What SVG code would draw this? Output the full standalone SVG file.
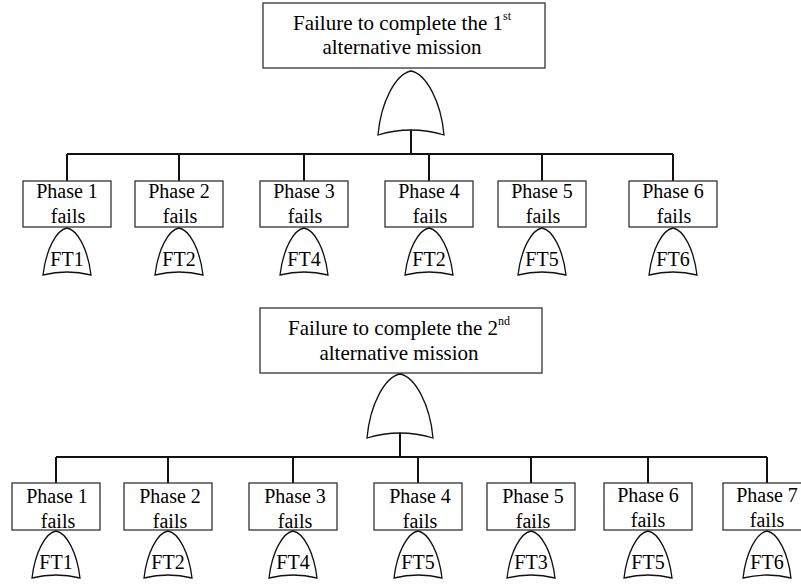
<svg xmlns="http://www.w3.org/2000/svg" xmlns:xlink="http://www.w3.org/1999/xlink" width="801" height="586" viewBox="0 0 801 586">
<style>
.box{fill:#fff;stroke:#333;stroke-width:1.3}
.gate{fill:#fff;stroke:#111;stroke-width:1.3}
.conn{fill:none;stroke:#111;stroke-width:2}
text{font-family:"Liberation Serif","Times New Roman",serif;fill:#000;text-anchor:middle}
.t{font-size:21px}
.p{font-size:20px}
.ft{font-size:20px}
.sup{font-size:12px}
</style>
<defs>
<path id="bg" class="gate" d="M-33,64 C-30,30 -15,3 0,0 C15,3 30,30 33,64 Q0,54 -33,64 Z"/>
<path id="sg" class="gate" d="M-24,47 C-21,22 -11,2 0,0 C11,2 21,22 24,47 Q0,41 -24,47 Z"/>
</defs>
<rect width="801" height="586" fill="#fff"/>
<g id="connectors">
<path class="conn" d="M411,130 V154 M67,154 H673 M67,154 V181 M179,154 V181 M304,154 V181 M429,154 V181 M542,154 V181 M673,154 V181"/>
<path class="conn" d="M400,433 V457 M56,457 H767 M56,457 V483 M168,457 V483 M293,457 V483 M418,457 V483 M531,457 V483 M648,457 V483 M767,457 V483"/>
</g>
<g id="top1">
<rect class="box" x="263" y="3" width="282" height="65"/>
<text class="t" x="402" y="30">Failure to complete the 1<tspan class="sup" dy="-10">st</tspan></text>
<text class="t" x="402" y="54">alternative mission</text>
<use xlink:href="#bg" x="411" y="71"/>
</g>
<g id="r1p1"><rect class="box" x="23" y="181" width="88" height="46"/><text class="p" x="67" y="198">Phase 1</text><text class="p" x="68" y="223">fails</text><use xlink:href="#sg" x="67" y="228"/><text class="ft" x="67" y="266">FT1</text></g>
<g id="r1p2"><rect class="box" x="135" y="181" width="88" height="46"/><text class="p" x="179" y="198">Phase 2</text><text class="p" x="180" y="223">fails</text><use xlink:href="#sg" x="179" y="228"/><text class="ft" x="179" y="266">FT2</text></g>
<g id="r1p3"><rect class="box" x="260" y="181" width="88" height="46"/><text class="p" x="304" y="198">Phase 3</text><text class="p" x="305" y="223">fails</text><use xlink:href="#sg" x="304" y="228"/><text class="ft" x="304" y="266">FT4</text></g>
<g id="r1p4"><rect class="box" x="385" y="181" width="88" height="46"/><text class="p" x="429" y="198">Phase 4</text><text class="p" x="430" y="223">fails</text><use xlink:href="#sg" x="429" y="228"/><text class="ft" x="429" y="266">FT2</text></g>
<g id="r1p5"><rect class="box" x="498" y="181" width="88" height="46"/><text class="p" x="542" y="198">Phase 5</text><text class="p" x="543" y="223">fails</text><use xlink:href="#sg" x="542" y="228"/><text class="ft" x="542" y="266">FT5</text></g>
<g id="r1p6"><rect class="box" x="629" y="181" width="88" height="46"/><text class="p" x="673" y="198">Phase 6</text><text class="p" x="674" y="223">fails</text><use xlink:href="#sg" x="673" y="228"/><text class="ft" x="673" y="266">FT6</text></g>
<g id="top2">
<rect class="box" x="260" y="308" width="282" height="65"/>
<text class="t" x="399" y="335">Failure to complete the 2<tspan class="sup" dy="-10">nd</tspan></text>
<text class="t" x="399" y="360">alternative mission</text>
<use xlink:href="#bg" x="400" y="374"/>
</g>
<g id="r2p1"><rect class="box" x="12" y="483" width="88" height="47"/><text class="p" x="57" y="503">Phase 1</text><text class="p" x="58" y="528">fails</text><use xlink:href="#sg" x="56" y="531"/><text class="ft" x="56" y="569">FT1</text></g>
<g id="r2p2"><rect class="box" x="124" y="483" width="88" height="47"/><text class="p" x="170" y="503">Phase 2</text><text class="p" x="170" y="528">fails</text><use xlink:href="#sg" x="168" y="531"/><text class="ft" x="168" y="569">FT2</text></g>
<g id="r2p3"><rect class="box" x="249" y="483" width="88" height="47"/><text class="p" x="295" y="503">Phase 3</text><text class="p" x="295" y="528">fails</text><use xlink:href="#sg" x="293" y="531"/><text class="ft" x="293" y="569">FT4</text></g>
<g id="r2p4"><rect class="box" x="374" y="483" width="88" height="47"/><text class="p" x="420" y="503">Phase 4</text><text class="p" x="420" y="528">fails</text><use xlink:href="#sg" x="418" y="531"/><text class="ft" x="418" y="569">FT5</text></g>
<g id="r2p5"><rect class="box" x="487" y="483" width="88" height="47"/><text class="p" x="533" y="503">Phase 5</text><text class="p" x="533" y="528">fails</text><use xlink:href="#sg" x="531" y="531"/><text class="ft" x="531" y="569">FT3</text></g>
<g id="r2p6"><rect class="box" x="604" y="483" width="88" height="47"/><text class="p" x="648" y="502">Phase 6</text><text class="p" x="648" y="527">fails</text><use xlink:href="#sg" x="648" y="531"/><text class="ft" x="648" y="569">FT5</text></g>
<g id="r2p7"><rect class="box" x="723" y="483" width="88" height="47"/><text class="p" x="767" y="502">Phase 7</text><text class="p" x="767" y="527">fails</text><use xlink:href="#sg" x="767" y="531"/><text class="ft" x="767" y="569">FT6</text></g>
</svg>
